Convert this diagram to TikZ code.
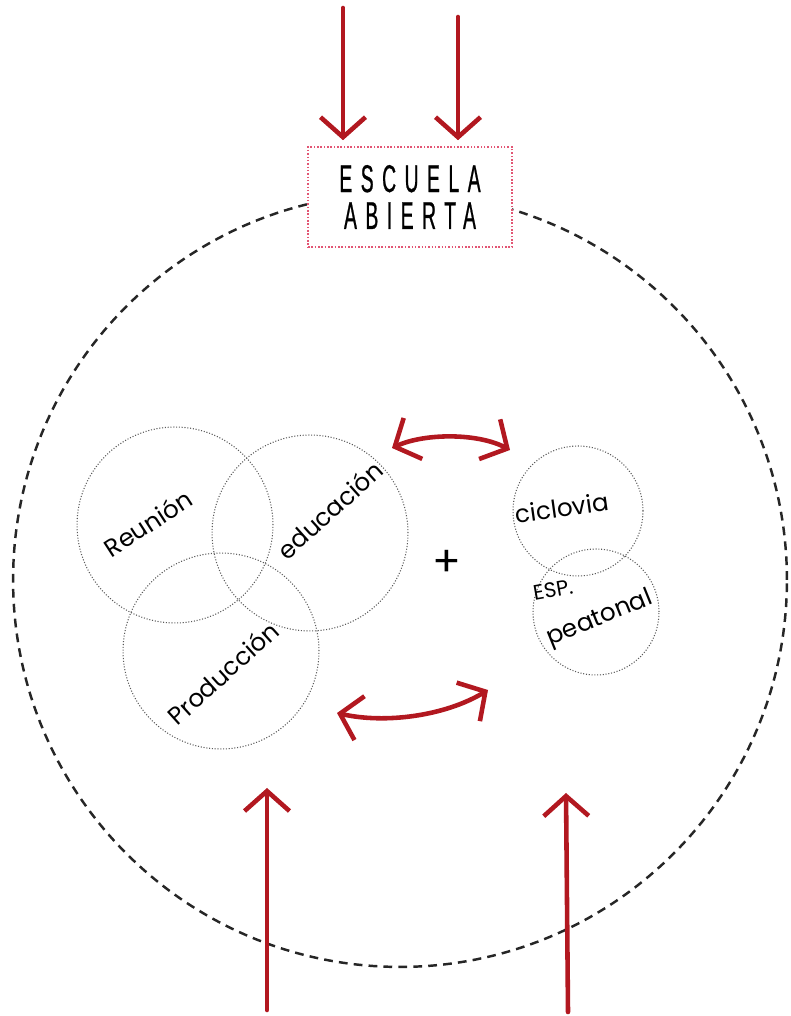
\documentclass[tikz,border=0pt]{standalone}
\usepackage{fontspec}
\usetikzlibrary{positioning,arrows.meta,calc}
\newfontfamily\boxfont[FakeStretch=0.5,LetterSpace=22,FakeBold=0.6]{Liberation Sans}
\newfontfamily\handfont{Poppins}
\definecolor{flowred}{RGB}{178,24,32}
\definecolor{frameline}{RGB}{226,86,116}
\definecolor{zoneline}{RGB}{90,90,90}
\tikzset{
  frame/.style={draw=frameline, densely dotted, line width=0.9pt, fill=white,
                minimum width=4.08cm, minimum height=2cm, align=center, inner sep=0pt,
                font=\boxfont\fontsize{22}{21}\selectfont},
  outer/.style={draw=black!85, dash pattern=on 5pt off 3.5pt, line width=1.4pt},
  zone/.style={circle, draw=zoneline, densely dotted, line width=0.6pt, inner sep=0pt},
  hand/.style={font=\handfont\fontsize{14}{16}\selectfont, inner sep=1pt},
  flow/.style={-{Straight Barb[length=4mm, width=9mm]}, line width=2.6pt,
               draw=flowred, line cap=round},
  dblflow/.style={{Straight Barb[length=4mm, width=9mm]}-{Straight Barb[length=4mm, width=9mm]},
                  line width=2.6pt, draw=flowred, line cap=round},
}
\begin{document}
\begin{tikzpicture}[x=0.02cm, y=0.02cm]
  \useasboundingbox (0,0) rectangle (790,1016);

  % site boundary
  \draw[outer] (400,436) circle [radius=7.74cm];

  \node[frame] (esc) at (410,819) {ESCUELA\\ABIERTA};

  % programme circles
  \node[zone, minimum size=3.92cm] (reu) at (175,491) {};
  \node[zone, minimum size=3.92cm] (edu) at (310,483) {};
  \node[zone, minimum size=3.92cm] (pro) at (221,365) {};
  \node[zone, minimum size=2.6cm]  (cic) at (578,505) {};
  \node[zone, minimum size=2.52cm] (pea) at (596,404) {};

  \node[hand, rotate=33] (reuT) at (148,493) {Reunión};
  \node[hand, rotate=42] (eduT) at (330,506) {educación};
  \node[hand, rotate=42] (proT) at (223,343) {Producción};
  \node[hand, rotate=8]  (cicT) at (562,508) {ciclovia};
  \node[hand, rotate=10, font=\handfont\fontsize{12}{14}\selectfont] (espT) at (553,426) {ESP.};
  \node[hand, rotate=22] (peaT) at (600,397) {peatonal};
  \node[font=\handfont\fontsize{24}{26}\selectfont] (plus) at (447,453) {+};

  % exchanges between the groups
  \coordinate (u1) at (392,568);
  \coordinate (u2) at (510,566);
  \coordinate (l1) at (337,303);
  \coordinate (l2) at (488,326);
  \draw[dblflow] (u1) .. controls (425,583) and (478,583) .. (u2);
  \draw[dblflow] (l1) .. controls (385,292) and (445,300) .. (l2);

  % access from above
  \coordinate (tl) at (343,1008);
  \coordinate (tr) at (458,999);
  \draw[flow, shorten >=0.12cm] (tl) -- (tl |- esc.north);
  \draw[flow, shorten >=0.12cm] (tr) -- (tr |- esc.north);

  % access from below
  \coordinate (bl) at (267,6);
  \coordinate (blT) at (267,228);
  \coordinate (br) at (568,4);
  \coordinate (brT) at (566,223);
  \draw[flow] (bl) -- (blT);
  \draw[flow] (br) -- (brT);
\end{tikzpicture}
\end{document}
